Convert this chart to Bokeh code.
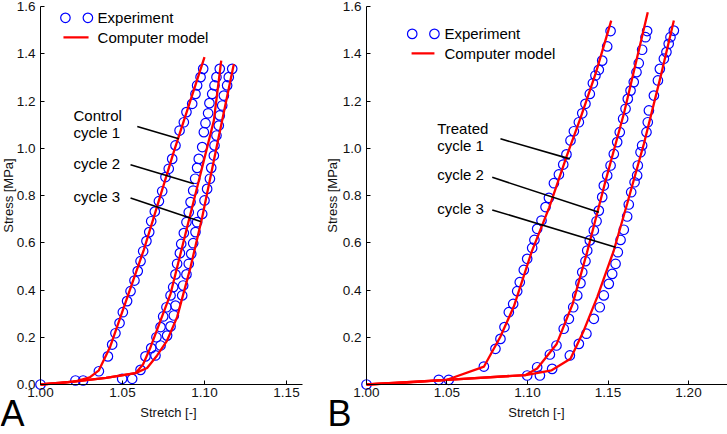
import numpy as np
from bokeh.plotting import figure
from bokeh.layouts import row
from bokeh.models import FixedTicker, Range1d, PrintfTickFormatter
from bokeh.embed import file_html
from bokeh.resources import INLINE
from bokeh.core.properties import value

# ---------------- Panel A (Control) ----------------
a_exp1_x = [1.000, 1.0213, 1.026, 1.0356, 1.0411, 1.0437, 1.0457, 1.0482, 1.0502, 1.0528, 1.0549,
            1.0573, 1.0593, 1.061, 1.0626, 1.0646, 1.0663, 1.0675, 1.0697, 1.0722, 1.0742, 1.0762,
            1.0782, 1.0803, 1.0823, 1.0848, 1.0874, 1.089, 1.0925, 1.0945, 1.0955, 1.0976, 1.0992]
a_exp1_y = [0.0, 0.017, 0.017, 0.056, 0.119, 0.169, 0.217, 0.26, 0.306, 0.353, 0.395,
            0.44, 0.48, 0.522, 0.564, 0.607, 0.645, 0.691, 0.732, 0.776, 0.818, 0.878,
            0.913, 0.955, 1.012, 1.075, 1.11, 1.153, 1.188, 1.23, 1.266, 1.301, 1.336]
a_exp2_x = [1.0498, 1.061, 1.064, 1.0675, 1.0707, 1.0732, 1.0748, 1.0768, 1.0793, 1.0809, 1.0823,
            1.0833, 1.085, 1.0858, 1.0874, 1.089, 1.0904, 1.0915, 1.0931, 1.0943, 1.0955, 1.0965,
            1.0986, 1.0996, 1.1006, 1.1022, 1.103, 1.1047, 1.1061, 1.1073, 1.1093]
a_exp2_y = [0.024, 0.062, 0.119, 0.154, 0.2, 0.243, 0.288, 0.327, 0.377, 0.412, 0.466,
            0.511, 0.556, 0.595, 0.641, 0.687, 0.729, 0.772, 0.821, 0.871, 0.917, 0.955,
            1.005, 1.068, 1.106, 1.148, 1.191, 1.23, 1.266, 1.301, 1.336]
a_exp3_x = [1.0559, 1.0701, 1.0732, 1.0772, 1.0793, 1.0813, 1.0823, 1.0864, 1.087, 1.089, 1.0904,
            1.0919, 1.0931, 1.0945, 1.0955, 1.0986, 1.1, 1.1016, 1.1033, 1.1041, 1.1057, 1.1061,
            1.1073, 1.1087, 1.1093, 1.1108, 1.1118, 1.1138, 1.1148, 1.1169]
a_exp3_y = [0.024, 0.123, 0.165, 0.207, 0.246, 0.292, 0.334, 0.377, 0.419, 0.466, 0.511,
            0.553, 0.598, 0.645, 0.687, 0.722, 0.779, 0.828, 0.871, 0.917, 0.969, 1.012,
            1.054, 1.096, 1.139, 1.181, 1.223, 1.266, 1.301, 1.336]
a_mod1_x = [1.0, 1.012, 1.022, 1.030, 1.0356, 1.0425, 1.0535, 1.063, 1.0815, 1.1]
a_mod1_y = [0.0, 0.006, 0.014, 0.03, 0.06, 0.16, 0.38, 0.57, 0.99, 1.386]
a_mod2_x = [1.0, 1.02, 1.04, 1.0579, 1.0625, 1.0671, 1.0793, 1.0894, 1.0976, 1.1057, 1.1102]
a_mod2_y = [0.0, 0.012, 0.028, 0.048, 0.085, 0.158, 0.384, 0.666, 0.892, 1.117, 1.371]
a_mod3_x = [1.0, 1.02, 1.04, 1.0579, 1.065, 1.0711, 1.0772, 1.0833, 1.0915, 1.0986, 1.1057, 1.1179]
a_mod3_y = [0.0, 0.012, 0.028, 0.048, 0.07, 0.123, 0.186, 0.285, 0.497, 0.708, 0.948, 1.357]

a_note_text = ["Control", "cycle 1", "cycle 2", "cycle 3"]
a_note_x = [1.0201, 1.0201, 1.0201, 1.0201]
a_note_y = [1.139, 1.067, 0.935, 0.796]
a_ptr_x0 = [1.059, 1.0549, 1.0549]
a_ptr_y0 = [1.092, 0.93, 0.789]
a_ptr_x1 = [1.0843, 1.0935, 1.0976]
a_ptr_y1 = [1.04, 0.85, 0.69]
a_leg = dict(cx=[1.0152, 1.0289], cy=1.552, lx=[1.014, 1.0293], ly=1.469, tx=1.0348)

# ---------------- Panel B (Treated) ----------------
b_exp1_x = [1.0, 1.0449, 1.0511, 1.0729, 1.0801, 1.0832, 1.0857, 1.0884, 1.0911, 1.0936, 1.0952,
            1.0977, 1.0998, 1.1029, 1.1043, 1.106, 1.1087, 1.1112, 1.1133, 1.1164, 1.1195, 1.1222,
            1.1242, 1.1267, 1.1288, 1.1319, 1.134, 1.136, 1.1387, 1.1406, 1.1422, 1.1443, 1.1464,
            1.1495, 1.1516]
b_exp1_y = [0.0, 0.02, 0.02, 0.076, 0.151, 0.193, 0.243, 0.306, 0.341, 0.395, 0.433,
            0.485, 0.532, 0.578, 0.612, 0.659, 0.694, 0.751, 0.79, 0.852, 0.889, 0.931,
            0.974, 1.033, 1.072, 1.11, 1.148, 1.188, 1.23, 1.275, 1.308, 1.332, 1.371,
            1.431, 1.496]
b_exp2_x = [1.0998, 1.106, 1.1139, 1.118, 1.1225, 1.1257, 1.1284, 1.1309, 1.1329, 1.134, 1.136,
            1.1371, 1.1387, 1.1412, 1.1429, 1.1443, 1.1464, 1.1474, 1.1495, 1.1516, 1.1536, 1.1557,
            1.1573, 1.1594, 1.1609, 1.1623, 1.164, 1.166, 1.1677, 1.1691, 1.1712, 1.1733, 1.1743]
b_exp2_y = [0.038, 0.073, 0.127, 0.165, 0.236, 0.278, 0.327, 0.377, 0.429, 0.475, 0.522,
            0.567, 0.61, 0.652, 0.691, 0.736, 0.793, 0.842, 0.885, 0.927, 0.976, 1.026,
            1.068, 1.125, 1.167, 1.209, 1.244, 1.28, 1.322, 1.36, 1.417, 1.47, 1.496]
b_exp3_x = [1.1077, 1.1153, 1.1263, 1.1319, 1.1366, 1.1412, 1.1449, 1.1474, 1.1505, 1.1526, 1.1547,
            1.1561, 1.1578, 1.1598, 1.1619, 1.1629, 1.1644, 1.1665, 1.1681, 1.1685, 1.1702, 1.1712,
            1.1739, 1.1747, 1.1754, 1.1785, 1.181, 1.1822, 1.1847, 1.1863, 1.1877, 1.1888, 1.1909]
b_exp3_y = [0.038, 0.066, 0.123, 0.172, 0.215, 0.278, 0.327, 0.377, 0.426, 0.468, 0.511,
            0.56, 0.612, 0.655, 0.711, 0.762, 0.814, 0.856, 0.885, 0.927, 0.983, 1.012,
            1.068, 1.11, 1.16, 1.223, 1.287, 1.336, 1.379, 1.407, 1.442, 1.47, 1.498]
b_mod1_x = [1.0, 1.025, 1.05, 1.073, 1.083, 1.0915, 1.1025, 1.1135, 1.1245, 1.133, 1.1425, 1.152]
b_mod1_y = [0.0, 0.008, 0.02, 0.076, 0.2, 0.33, 0.56, 0.75, 0.97, 1.13, 1.32, 1.54]
b_mod2_x = [1.0, 1.05, 1.0988, 1.106, 1.118, 1.128, 1.137, 1.148, 1.160, 1.1747]
b_mod2_y = [0.0, 0.02, 0.04, 0.068, 0.17, 0.34, 0.56, 0.85, 1.15, 1.576]
b_mod3_x = [1.0, 1.05, 1.0988, 1.115, 1.1267, 1.135, 1.1433, 1.1536, 1.1619, 1.1723, 1.1826, 1.1909]
b_mod3_y = [0.0, 0.02, 0.04, 0.06, 0.109, 0.229, 0.37, 0.567, 0.765, 1.019, 1.301, 1.541]

b_note_text = ["Treated", "cycle 1", "cycle 2", "cycle 3"]
b_note_x = [1.0439, 1.0439, 1.0439, 1.0439]
b_note_y = [1.0857, 1.011, 0.889, 0.747]
b_ptr_x0 = [1.0832, 1.0781, 1.0781]
b_ptr_y0 = [1.04, 0.877, 0.739]
b_ptr_x1 = [1.1263, 1.1443, 1.1547]
b_ptr_y1 = [0.955, 0.729, 0.581]
b_leg = dict(cx=[1.0284, 1.0422], cy=1.484, lx=[1.028, 1.0422], ly=1.402, tx=1.0484)

a_xticks = [1.00, 1.05, 1.10, 1.15]
b_xticks = [1.00, 1.05, 1.10, 1.15, 1.20]
a_yticks = [0.0, 0.2, 0.4, 0.6, 0.8, 1.0, 1.2, 1.4, 1.6]
b_yticks = [0.2, 0.4, 0.6, 0.8, 1.0, 1.2, 1.4, 1.6]

FONT = "Liberation Sans"
BLUE = "#0000ff"
RED = "#ff0000"
H = 434
Y0, Y1 = -0.21164, 1.62540


def panel(width, xr, xbound, xticks, yticks, exps, mods, notes, ptrs, leg,
          ylab_x, xlab_x, letter, letter_x):
    p = figure(width=width, height=H, x_range=Range1d(*xr), y_range=Range1d(Y0, Y1),
               output_backend="svg", toolbar_location=None,
               min_border_left=0, min_border_right=0, min_border_top=0, min_border_bottom=0)
    p.outline_line_color = None
    p.xgrid.visible = False
    p.ygrid.visible = False
    p.xaxis.fixed_location = 0.0
    p.yaxis.fixed_location = 1.0
    p.xaxis.bounds = xbound
    p.yaxis.bounds = (0.0, 1.6)
    for ax, ticks, fmt in ((p.xaxis[0], xticks, "%.2f"), (p.yaxis[0], yticks, "%.1f")):
        ax.ticker = FixedTicker(ticks=ticks)
        ax.formatter = PrintfTickFormatter(format=fmt)
        ax.major_tick_in = 4
        ax.major_tick_out = 0
        ax.minor_tick_line_color = None
        ax.axis_line_color = "black"
        ax.major_tick_line_color = "black"
        ax.major_label_text_font = FONT
        ax.major_label_text_font_size = "13.5px"
        ax.major_label_text_color = "#111111"
    p.xaxis.major_label_standoff = 3
    p.yaxis.major_label_standoff = 5

    for (ex, ey) in exps:
        p.scatter(ex, ey, marker="circle", size=9.5, fill_color=None, line_color=BLUE, line_width=1.2)
    for (mx, my) in mods:
        p.line(mx, my, line_color=RED, line_width=2.3)

    nt, nx, ny = notes
    p.text(nx, ny, text=nt, text_font=value(FONT), text_font_size="15px",
           text_baseline="middle", text_align="left", text_color="black")
    x0, y0, x1, y1 = ptrs
    p.segment(x0, y0, x1, y1, line_color="black", line_width=1.6)

    p.scatter(leg["cx"], [leg["cy"]] * 2, marker="circle", size=9.5, fill_color=None,
              line_color=BLUE, line_width=1.2)
    p.line(leg["lx"], [leg["ly"]] * 2, line_color=RED, line_width=2.3)
    p.text([leg["tx"], leg["tx"]], [leg["cy"], leg["ly"]], text=["Experiment", "Computer model"],
           text_font=value(FONT), text_font_size="15px", text_baseline="middle",
           text_align="left", text_color="black")

    # axis titles and panel letter
    p.text([ylab_x], [0.8], text=["Stress [MPa]"], angle=np.pi / 2, text_font=value(FONT),
           text_font_size="13px", text_align="center", text_baseline="middle",
           text_color="#111111")
    p.text([xlab_x], [-0.1185], text=["Stretch [-]"], text_font=value(FONT),
           text_font_size="13px", text_align="center", text_baseline="middle",
           text_color="#111111")
    p.text([letter_x], [-0.1227], text=[letter], text_font=value(FONT), text_font_size="36px",
           text_align="left", text_baseline="middle", text_color="black")
    return p


pa = panel(326, (0.97561, 1.17439), (1.0, 1.16), a_xticks, a_yticks,
           [(a_exp1_x, a_exp1_y), (a_exp2_x, a_exp2_y), (a_exp3_x, a_exp3_y)],
           [(a_mod1_x, a_mod1_y), (a_mod2_x, a_mod2_y), (a_mod3_x, a_mod3_y)],
           (a_note_text, a_note_x, a_note_y), (a_ptr_x0, a_ptr_y0, a_ptr_x1, a_ptr_y1), a_leg,
           0.98049, 1.07805, "A", 0.97561)
pb = panel(401, (0.97516, 1.22422), (1.0, 1.22422), b_xticks, b_yticks,
           [(b_exp1_x, b_exp1_y), (b_exp2_x, b_exp2_y), (b_exp3_x, b_exp3_y)],
           [(b_mod1_x, b_mod1_y), (b_mod2_x, b_mod2_y), (b_mod3_x, b_mod3_y)],
           (b_note_text, b_note_x, b_note_y), (b_ptr_x0, b_ptr_y0, b_ptr_x1, b_ptr_y1), b_leg,
           0.97919, 1.10559, "B", 0.97578)

layout = row(pa, pb)
open("out.html", "w").write(file_html(layout, INLINE))
